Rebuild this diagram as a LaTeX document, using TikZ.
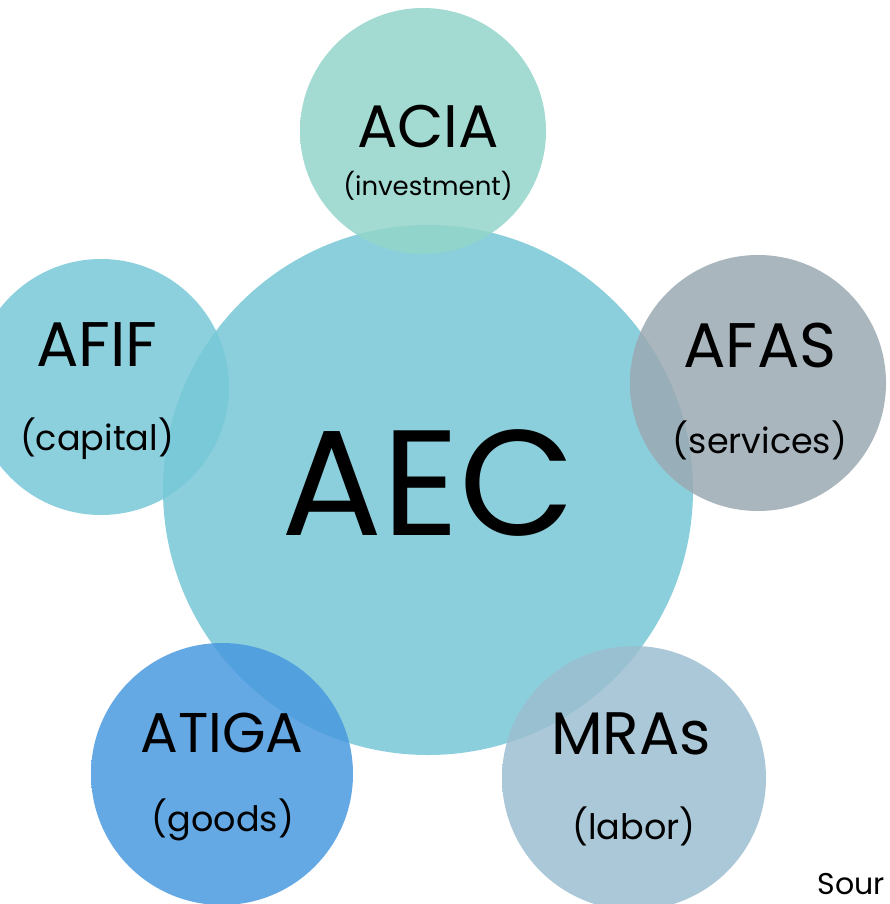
\documentclass[tikz,border=0pt]{standalone}
\usepackage{fontspec}
\setmainfont{Poppins}

% Colores de las burbujas
\definecolor{cAEC}{RGB}{139,207,220}
\definecolor{cACIA}{RGB}{147,213,202}
\definecolor{cAFIF}{RGB}{120,200,216}
\definecolor{cAFAS}{RGB}{155,169,178}
\definecolor{cATIGA}{RGB}{73,153,223}
\definecolor{cMRAS}{RGB}{155,190,208}

% Sombreado de burbuja: color plano, borde claro y filo oscuro
\pgfdeclareradialshading[colburbuja]{burbuja}{\pgfpoint{0bp}{0bp}}{%
  color(0bp)=(colburbuja); color(40bp)=(colburbuja);
  color(47bp)=(colburbuja!65!white); color(49bp)=(colburbuja!78!black);
  color(50bp)=(colburbuja!78!black)}

\begin{document}
\begin{tikzpicture}[x=1pt, y=-1pt,
  burbuja/.style={circle, inner sep=0pt, minimum size=#1, shade, shading=burbuja},
  titulo/.style={inner sep=0pt, font=\fontsize{#1}{#1}\selectfont},
  sub/.style={inner sep=0pt, font=\fontsize{#1}{#1}\selectfont}]
\useasboundingbox (0,0) rectangle (890,904);
\clip (0,0) rectangle (890,904);

% La burbuja grande del centro
\colorlet{colburbuja}{cAEC}
\node[burbuja=530pt] (aec) at (428,490) {};

% Las de alrededor, un poco transparentes
\colorlet{colburbuja}{cACIA}
\node[burbuja=246pt, fill opacity=.85] (acia) at (423,131) {};
\colorlet{colburbuja}{cAFIF}
\node[burbuja=256pt, fill opacity=.85] (afif) at (101,387) {};
\colorlet{colburbuja}{cAFAS}
\node[burbuja=256pt, fill opacity=.85] (afas) at (758,383) {};
\colorlet{colburbuja}{cATIGA}
\node[burbuja=262pt, fill opacity=.85] (atiga) at (222,774) {};
\colorlet{colburbuja}{cMRAS}
\node[burbuja=264pt, fill opacity=.85] (mras) at (634,778) {};

% Textos
\node[titulo=150] (aecT) at (428,483) {AEC};
\node[titulo=60] (aciaT) at (428,127) {ACIA};
\node[sub=26] (aciaS) at (428,186) {(investment)};
\node[titulo=63] (afifT) at (97,345) {AFIF};
\node[sub=35] (afifS) at (97,439) {(capital)};
\node[titulo=63] (afasT) at (760,345) {AFAS};
\node[sub=35] (afasS) at (760,440) {(services)};
\node[titulo=56] (atigaT) at (222,733) {ATIGA};
\node[sub=35] (atigaS) at (223,820) {(goods)};
\node[titulo=60] (mrasT) at (631,734) {MRAs};
\node[sub=35] (mrasS) at (634,826) {(labor)};

% Pie, pegado a la esquina
\node[sub=30, anchor=base east] (fuente) at (885,894) {Sour};
\end{tikzpicture}
\end{document}
